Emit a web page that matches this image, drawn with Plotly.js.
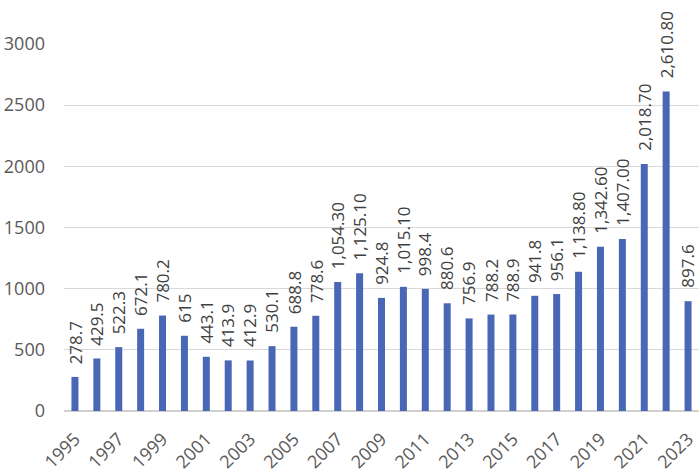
<!DOCTYPE html>
<html><head><meta charset="utf-8">
<script src="https://cdn.plot.ly/plotly-3.0.1.min.js"></script>
<style>html,body{margin:0;padding:0;background:#fff}#c{width:700px;height:473px}</style>
</head><body><div id="c"></div>
<script>
const years = [1995,1996,1997,1998,1999,2000,2001,2002,2003,2004,2005,2006,2007,2008,2009,2010,2011,2012,2013,2014,2015,2016,2017,2018,2019,2020,2021,2022,2023];
const values = [278.7,429.5,522.3,672.1,780.2,615,443.1,413.9,412.9,530.1,688.8,778.6,1054.3,1125.1,924.8,1015.1,998.4,880.6,756.9,788.2,788.9,941.8,956.1,1138.8,1342.6,1407.0,2018.7,2610.8,897.6];
const tickYears = [1995,1997,1999,2001,2003,2005,2007,2009,2011,2013,2015,2017,2019,2021,2023];
const labels = values.map(v => v >= 1000 ? v.toLocaleString('en-US',{minimumFractionDigits:2,maximumFractionDigits:2}) : String(v));
const font = '"Open Sans", "Liberation Sans", sans-serif';
const annotations = years.map((yr,i) => ({
  x: yr, y: values[i], xref:'x', yref:'y', text: labels[i], showarrow:false,
  textangle:-90, xanchor:'center', yanchor:'bottom', yshift:11,
  font:{family:font,size:17,color:'#404040'}
}));
Plotly.newPlot('c', [{
  type:'bar', x:years, y:values,
  marker:{color:'#4a67b6'}, hoverinfo:'none'
}], {
  width:700, height:473,
  margin:{l:64,r:1,t:44,b:62},
  bargap:0.68,
  showlegend:false,
  annotations: annotations,
  paper_bgcolor:'#fff', plot_bgcolor:'#fff',
  font:{family:font,size:18,color:'#595959'},
  xaxis:{tickvals:tickYears, ticktext:tickYears.map(String), tickangle:-45, range:[1994.5,2023.5],
    showgrid:false, zeroline:false, showline:false, ticks:'', ticklabelstandoff:13,
    tickfont:{family:font,size:18,color:'#595959'}},
  yaxis:{range:[0,3000], dtick:500, showgrid:true, gridcolor:'#d9d9d9', gridwidth:1, zeroline:true, zerolinecolor:'#d0d0d0', zerolinewidth:1.5,
    ticks:'', showline:false, tickfont:{family:font,size:18,color:'#595959'}, ticklabelstandoff:18}
}, {staticPlot:true});
</script></body></html>
